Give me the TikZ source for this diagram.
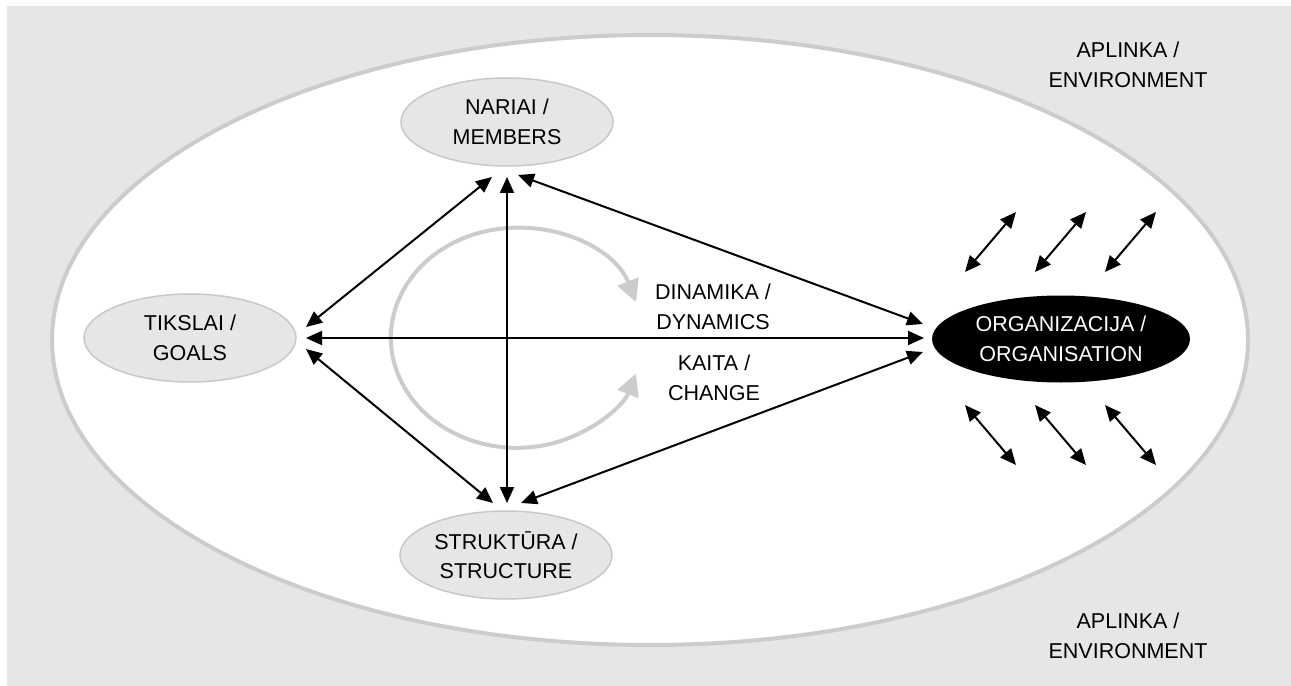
\documentclass[tikz,border=0pt]{standalone}
\usepackage{fontspec}
\setmainfont{Liberation Sans}
\usetikzlibrary{shapes.geometric,arrows.meta}
\definecolor{bggray}{HTML}{E6E6E6}
\definecolor{linegray}{HTML}{CCCCCC}
\definecolor{nodeborder}{HTML}{C8C8C8}
\begin{document}
\begin{tikzpicture}[x=1bp,y=-1bp,
  txt/.style={font=\fontsize{21.5bp}{29.5bp}\selectfont, align=center},
  topic/.style={ellipse, txt, draw=nodeborder, line width=1.5bp, fill=bggray,
    minimum width=212bp, minimum height=88bp, inner sep=0pt},
  orgnode/.style={ellipse, txt, fill=black, text=white,
    minimum width=258bp, minimum height=87bp, inner sep=0pt},
  link/.style={line width=2bp,
    {Triangle[length=16bp,width=14bp]}-{Triangle[length=16bp,width=14bp]}},
  cyc/.style={draw=linegray, line width=4bp,
    {Triangle[length=22bp,width=22bp]}-{Triangle[length=22bp,width=22bp]}}
]
\useasboundingbox (0,0) rectangle (1291,686);
\fill[bggray] (7,6) rectangle (1291,686);
\draw[linegray, line width=4bp, fill=white] (650,340) ellipse [x radius=598, y radius=305];

% cycle arc
\draw[cyc] (636,302) arc[start angle=-19, end angle=-341, x radius=126, y radius=110];

% nodes
\node[topic] (members) at (507,122) {NARIAI /\\MEMBERS};
\node[topic] (goals) at (190,338) {TIKSLAI /\\GOALS};
\node[topic] (structure) at (506,555) {STRUKTŪRA /\\STRUCTURE};
\node[orgnode] (org) at (1061,339) {ORGANIZACIJA /\\ORGANISATION};
\node[txt] (dyn) at (713,307) {DINAMIKA /\\DYNAMICS};
\node[txt] (chg) at (714,378) {KAITA /\\CHANGE};
\node[txt] (envtop) at (1128,65) {APLINKA /\\ENVIRONMENT};
\node[txt] (envbot) at (1128,636) {APLINKA /\\ENVIRONMENT};

% ports
\coordinate (g1) at (306,327);
\coordinate (g2) at (306,338);
\coordinate (g3) at (306,349);
\coordinate (m1) at (492,177);
\coordinate (m2) at (507,177);
\coordinate (m3) at (518,175);
\coordinate (s1) at (493,503);
\coordinate (s2) at (507,503);
\coordinate (s3) at (521,503);
\coordinate (o1) at (923,324);
\coordinate (o2) at (924,338);
\coordinate (o3) at (923,352);

\draw[link] (g1) -- (m1);
\draw[link] (g2) -- (o2);
\draw[link] (g3) -- (s1);
\draw[link] (m2) -- (s2);
\draw[link] (m3) -- (o1);
\draw[link] (s3) -- (o3);

% environment exchange arrows
\foreach \i/\dx in {1/0,2/70,3/140}{
  \coordinate (ta\i) at (965+\dx,272);
  \coordinate (tb\i) at (1016+\dx,212);
  \coordinate (ba\i) at (965+\dx,405);
  \coordinate (bb\i) at (1016+\dx,465);
  \draw[link] (ta\i) -- (tb\i);
  \draw[link] (ba\i) -- (bb\i);
}
\end{tikzpicture}
\end{document}
